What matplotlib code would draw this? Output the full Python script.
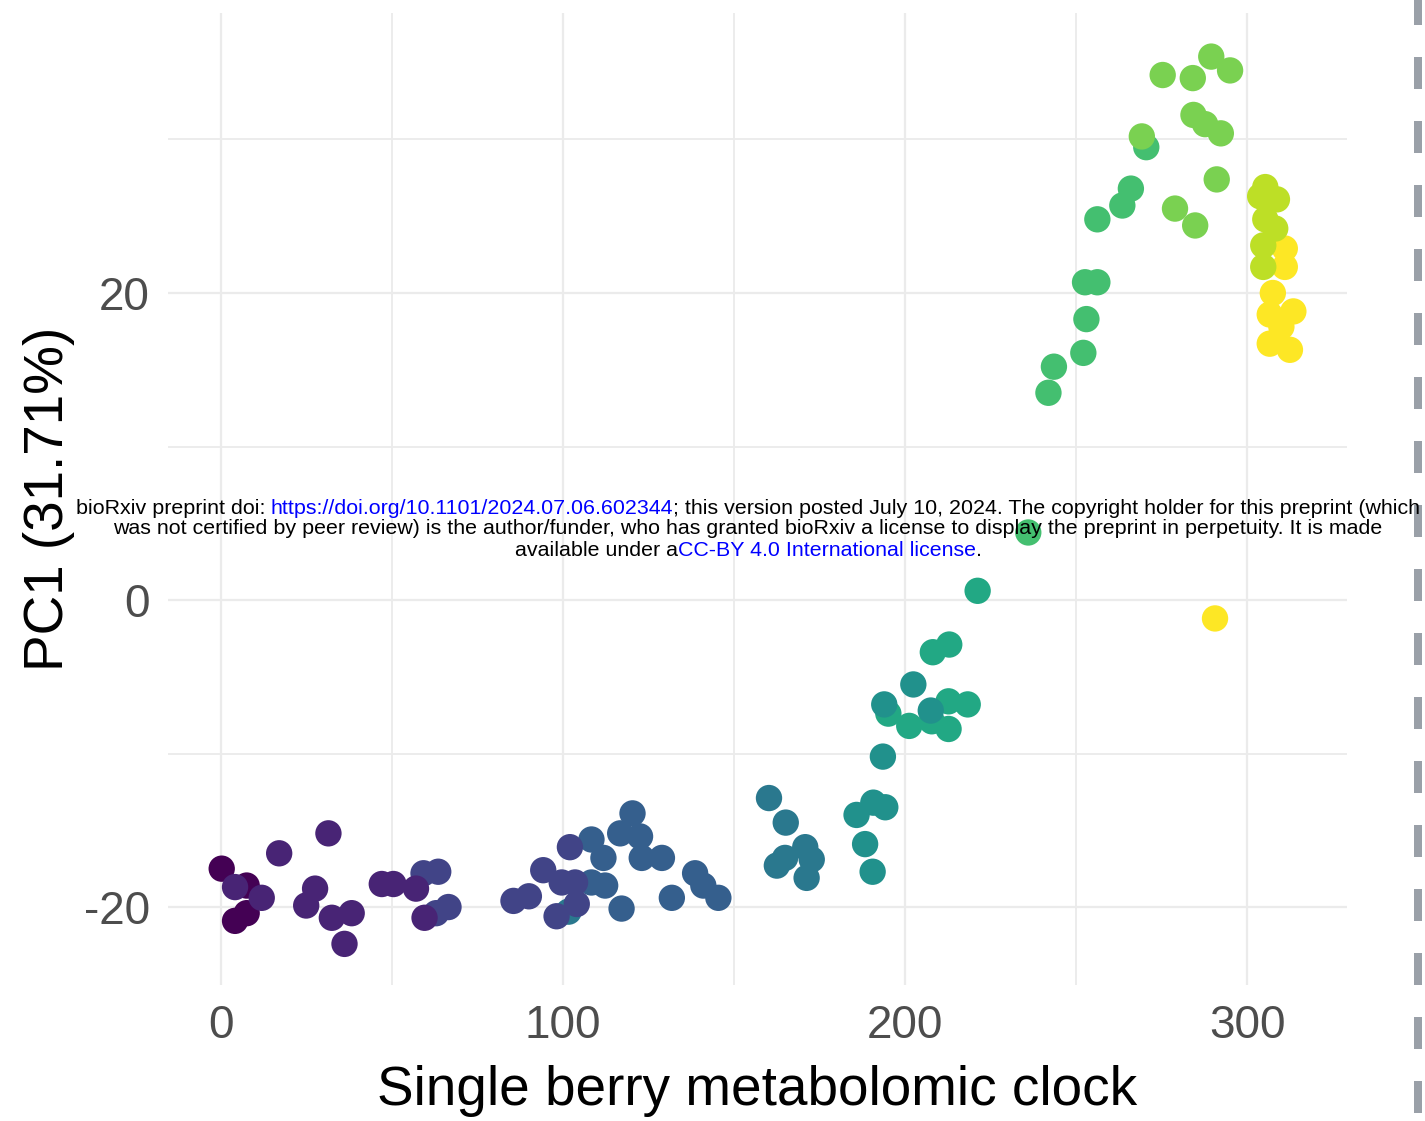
import matplotlib
matplotlib.use("Agg")
import matplotlib.pyplot as plt
from matplotlib.lines import Line2D

plt.rcParams['font.family'] = ['Liberation Sans', 'DejaVu Sans']
plt.rcParams['axes.unicode_minus'] = False

# stage index -> viridis(11) colour; listed roughly in drawing order
stage = [10] * 9 + [9] * 7 + [6] * 9 + [5] * 9 + [4] * 8 + [3] * 14 + [2] * 12 + [0] * 4 + [1] * 13 + [7] * 11 + [8] * 11

clock = [
    311.0, 311.0, 307.5, 306.6, 313.5, 310.0, 306.6, 312.5, 290.6,
    305.3, 303.8, 308.7, 305.3, 308.2, 304.7, 304.7,
    195.1, 201.2, 207.8, 212.7, 212.7, 218.3, 208.1, 212.9, 221.2,
    185.8, 190.7, 194.2, 188.3, 190.5, 193.5, 193.9, 202.4, 207.5,
    160.2, 165.1, 170.8, 162.5, 164.9, 172.7, 171.2, 101.6,
    108.3, 111.8, 108.3, 112.3, 117.1, 120.3, 116.7, 122.5, 123.0, 128.9, 131.8, 138.6, 141.0, 145.4,
    59.2, 63.5, 62.9, 66.5, 85.5, 90.0, 94.2, 102.0, 98.1, 99.6, 103.5, 104.0,
    0.2, 7.5, 4.1, 7.5,
    4.1, 11.9, 17.0, 31.4, 27.5, 24.9, 32.4, 38.2, 36.1, 47.0, 50.4, 57.0, 59.5,
    236.0, 241.9, 243.5, 252.1, 253.0, 252.6, 256.2, 256.2, 263.5, 266.0, 270.5,
    269.2, 275.3, 284.1, 289.5, 295.0, 284.3, 287.7, 292.3, 291.1, 278.9, 284.8,
]

pc1 = [
    22.9, 21.7, 20.0, 18.6, 18.8, 17.8, 16.7, 16.3, -1.2,
    26.9, 26.3, 26.1, 24.8, 24.2, 23.1, 21.7,
    -7.4, -8.2, -7.9, -6.6, -8.4, -6.8, -3.4, -2.9, 0.6,
    -14.0, -13.2, -13.5, -15.9, -17.7, -10.2, -6.8, -5.5, -7.2,
    -12.9, -14.5, -16.1, -17.3, -16.8, -16.9, -18.1, -20.3,
    -15.6, -16.8, -18.4, -18.6, -20.1, -13.9, -15.2, -15.4, -16.8, -16.8, -19.4, -17.8, -18.6, -19.4,
    -17.8, -17.7, -20.4, -20.0, -19.6, -19.3, -17.6, -16.1, -20.6, -18.4, -18.4, -19.8,
    -17.5, -18.6, -20.9, -20.4,
    -18.7, -19.4, -16.5, -15.2, -18.8, -19.9, -20.7, -20.4, -22.4, -18.5, -18.5, -18.8, -20.7,
    4.4, 13.5, 15.2, 16.1, 18.3, 20.7, 20.7, 24.8, 25.7, 26.8, 29.5,
    30.2, 34.2, 34.0, 35.4, 34.5, 31.6, 31.0, 30.4, 27.4, 25.5, 24.4,
]

x_ticks = [0, 100, 200, 300]
y_ticks = [-20, 0, 20]

fig = plt.figure(figsize=(14.25, 11.21), dpi=100)
ax = fig.add_axes([0.1179, 0.1213, 0.8274, 0.8671])

ax.scatter(clock, pc1, c=stage, cmap="viridis", vmin=0, vmax=10, s=360,
           linewidths=0, zorder=3)

ax.set_xlim(-15.5, 329.2)
ax.set_ylim(-25.08, 38.24)
ax.set_xticks(x_ticks)
ax.set_yticks(y_ticks)
ax.set_xticks([50, 150, 250], minor=True)
ax.set_yticks([-10, 10, 30], minor=True)
ax.grid(True, which="major", color="#ebebeb", lw=1.6, zorder=0)
ax.grid(True, which="minor", color="#ebebeb", lw=1.3, zorder=0)
ax.set_axisbelow(True)
for sp in ax.spines.values():
    sp.set_visible(False)
ax.tick_params(which="both", length=0)
ax.tick_params(axis="x", labelsize=33, labelcolor="#4d4d4d", pad=14)
ax.tick_params(axis="y", labelsize=33, labelcolor="#4d4d4d", pad=13)

ax.set_xlabel("Single berry metabolomic clock", fontsize=39.5, labelpad=12)
ax.set_ylabel("PC1 (31.71%)", fontsize=39.5, labelpad=6)

# bioRxiv watermark, centred with blue link pieces
W = fig.get_figwidth() * fig.dpi
cx = 748
lines = [
    (0.5468, [("bioRxiv preprint doi: ", "black"),
              ("https://doi.org/10.1101/2024.07.06.602344", "blue"),
              ("; this version posted July 10, 2024. The copyright holder for this preprint (which", "black")]),
    (0.5281, [("was not certified by peer review) is the author/funder, who has granted bioRxiv a license to display the preprint in perpetuity. It is made", "black")]),
    (0.5085, [("available under a", "black"),
              ("CC-BY 4.0 International license", "blue"),
              (".", "black")]),
]
fig.canvas.draw()
r = fig.canvas.get_renderer()
for yy, parts in lines:
    texts = [fig.text(0, yy, s, color=c, fontsize=15.4, va="center", zorder=10) for s, c in parts]
    widths = [t.get_window_extent(r).width for t in texts]
    x = cx - sum(widths) / 2
    for t, w in zip(texts, widths):
        t.set_x(x / W)
        x += w

# dashed margin line on the right
fig.add_artist(Line2D([1418 / 1425, 1418 / 1425], [1, 0], transform=fig.transFigure,
                      color="#9aa0a8", lw=5.76, linestyle=(0.875, (4, 4)),
                      solid_capstyle="butt", dash_capstyle="butt"))

fig.savefig("out.png", dpi=100)
